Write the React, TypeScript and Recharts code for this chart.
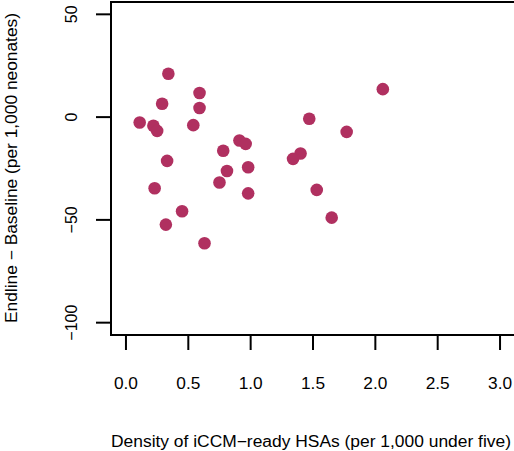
import { ScatterChart, Scatter, XAxis, YAxis, ReferenceArea } from 'recharts';

// density of iCCM-ready HSAs (per 1,000 under five)
const density = [
  0.34, 2.06, 0.59, 0.29, 0.59, 1.47, 0.11, 0.22, 0.25, 0.54, 1.77, 0.91, 0.96, 0.78,
  1.40, 1.34, 0.33, 0.98, 0.81, 0.75, 0.23, 1.53, 0.98, 1.65, 0.45, 0.32, 0.63,
];
// endline - baseline (per 1,000 neonates)
const change = [
  21.1, 13.6, 11.7, 6.5, 4.4, -0.8, -2.6, -4.2, -6.7, -3.9, -7.2, -11.4, -13.0, -16.4,
  -17.7, -20.3, -21.3, -24.4, -26.2, -31.8, -34.6, -35.4, -37.1, -48.9, -45.8, -52.3, -61.4,
];
const xTicks = [0, 0.5, 1, 1.5, 2, 2.5, 3];
const yTicks = [-100, -50, 0, 50];

const points = density.map((x, i) => ({ x, y: change[i] }));

const FONT = '"Liberation Sans", Arial, sans-serif';
const DOT = '#B03060';

const fmtY = (v: number) => (v < 0 ? '\u2212' + Math.abs(v) : String(v));

function YTick({ y, payload }: any) {
  return (
    <text
      x={77}
      y={y}
      transform={`rotate(-90, 77, ${y})`}
      textAnchor="middle"
      fontSize={16}
      fontFamily={FONT}
      fill="#000"
    >
      {fmtY(payload.value)}
    </text>
  );
}

function XTick({ x, payload }: any) {
  return (
    <text x={x} y={389} textAnchor="middle" fontSize={16} fontFamily={FONT} fill="#000" textLength={24} lengthAdjust="spacingAndGlyphs">
      {payload.value.toFixed(1)}
    </text>
  );
}

export default function App() {
  return (
    <div style={{ position: 'absolute', left: 0, top: 0, width: 514, height: 451, overflow: 'hidden', background: '#fff' }}>
      <ScatterChart width={516} height={451} margin={{ top: 2, right: 1, bottom: 0, left: 0 }}>
        <XAxis
          type="number"
          dataKey="x"
          domain={[-0.12, 3.12]}
          ticks={xTicks}
          axisLine={false}
          tickLine={{ stroke: '#000', strokeWidth: 2 }}
          tickSize={15}
          height={116}
          tick={<XTick />}
          allowDataOverflow
        />
        <YAxis
          type="number"
          dataKey="y"
          domain={[-106, 56]}
          ticks={yTicks}
          axisLine={false}
          tickLine={{ stroke: '#000', strokeWidth: 2 }}
          tickSize={15}
          width={111}
          tick={<YTick />}
          allowDataOverflow
        />
        <ReferenceArea
          x1={-0.12}
          x2={3.12}
          y1={-106}
          y2={56}
          fill="none"
          stroke="#000"
          strokeWidth={2}
          ifOverflow="visible"
        />
        <Scatter
          data={points}
          isAnimationActive={false}
          shape={(p: any) => <circle cx={p.cx} cy={p.cy} r={6.3} fill={DOT} />}
        />
        <text
          x={311}
          y={447}
          textAnchor="middle"
          fontSize={16}
          fontFamily={FONT}
          fill="#000"
          textLength={400}
          lengthAdjust="spacingAndGlyphs"
        >
          Density of iCCM{'\u2212'}ready HSAs (per 1,000 under five)
        </text>
        <text
          x={17}
          y={168}
          transform="rotate(-90, 17, 168)"
          textAnchor="middle"
          fontSize={16}
          fontFamily={FONT}
          fill="#000"
          textLength={310}
          lengthAdjust="spacingAndGlyphs"
        >
          Endline {'\u2212'} Baseline (per 1,000 neonates)
        </text>
      </ScatterChart>
    </div>
  );
}
